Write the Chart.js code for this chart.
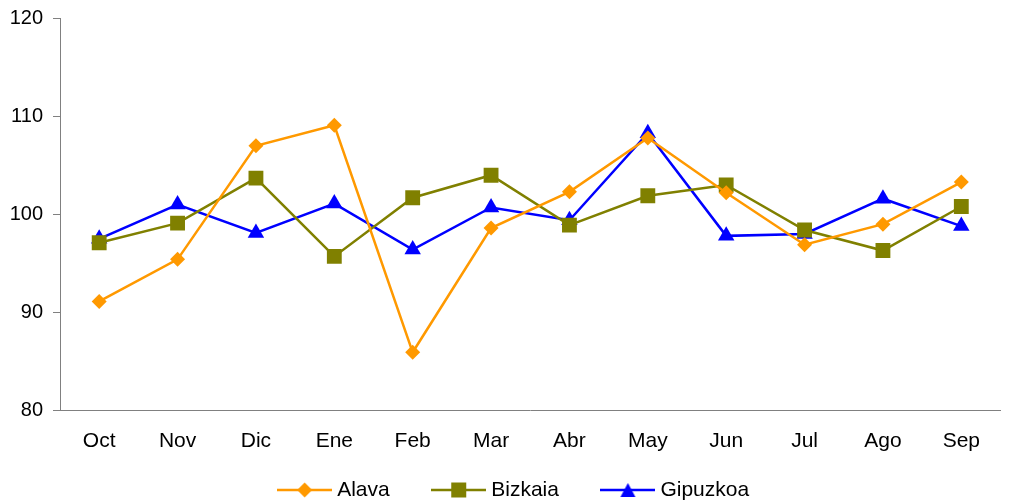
<!DOCTYPE html>
<html>
<head>
<meta charset="utf-8">
<script src="https://cdn.jsdelivr.net/npm/chart.js@4.4.1/dist/chart.umd.min.js"></script>
<style>
  html, body { margin: 0; padding: 0; background: #fff; overflow: hidden; }
  #wrap { width: 1011px; height: 502px; }
</style>
</head>
<body>
<div id="wrap"><canvas id="chart" width="1011" height="502"></canvas></div>
<script>
// months (Oct -> Sep)
const months = ['Oct', 'Nov', 'Dic', 'Ene', 'Feb', 'Mar', 'Abr', 'May', 'Jun', 'Jul', 'Ago', 'Sep'];

const alava    = [91.1, 95.4, 107.0, 109.1, 85.9, 98.6, 102.3, 107.8, 102.2, 96.9, 99.0, 103.3];
const bizkaia  = [97.1, 99.1, 103.7, 95.7, 101.7, 104.0, 98.9, 101.9, 103.0, 98.4, 96.3, 100.8];
const gipuzkoa = [97.5, 101.0, 98.1, 101.1, 96.4, 100.7, 99.4, 108.3, 97.8, 98.0, 101.6, 98.8];

const yTicks = [80, 90, 100, 110, 120];

const FONT = 'Liberation Sans, Arial, Helvetica, sans-serif';

// legend icon: short line with the marker in the middle
function legendIcon(color, shape) {
    const c = document.createElement('canvas');
    c.width = 55;
    c.height = 20;
    const g = c.getContext('2d');
    g.strokeStyle = color;
    g.lineWidth = 2.5;
    g.beginPath();
    g.moveTo(0, 10);
    g.lineTo(55, 10);
    g.stroke();
    g.fillStyle = color;
    g.beginPath();
    if (shape === 'diamond') {
        g.moveTo(27.5, 2.5); g.lineTo(35, 10); g.lineTo(27.5, 17.5); g.lineTo(20, 10);
    } else if (shape === 'square') {
        g.rect(20, 2.5, 15, 15);
    } else {
        g.moveTo(27.5, 3); g.lineTo(35, 17); g.lineTo(20, 17);
    }
    g.closePath();
    g.fill();
    return c;
}

const series = [
    { label: 'Alava',    data: alava,    color: '#FF9900', style: 'rectRot',  radius: 7.5,  icon: legendIcon('#FF9900', 'diamond') },
    { label: 'Bizkaia',  data: bizkaia,  color: '#808000', style: 'rect',     radius: 10.5, icon: legendIcon('#808000', 'square') },
    { label: 'Gipuzkoa', data: gipuzkoa, color: '#0000FF', style: 'triangle', radius: 9.5,  icon: legendIcon('#0000FF', 'triangle') }
];

const datasets = series.map(s => ({
    label: s.label,
    data: s.data,
    borderColor: s.color,
    backgroundColor: s.color,
    borderWidth: 2.5,
    pointStyle: s.style,
    pointRadius: s.radius,
    pointBorderWidth: 0,
    pointBackgroundColor: s.color,
    pointBorderColor: s.color,
    tension: 0,
    fill: false
}));

// legend padding is wide for item spacing, so move the box up (and centre it like the original)
const legendNudge = {
    id: 'legendNudge',
    afterLayout(chart) {
        const lg = chart.legend;
        lg.top -= 20.5;
        lg.bottom = chart.height;
        lg.height = lg.bottom - lg.top;
        lg.left += 10.4;
        lg.right += 10.4;
    }
};

new Chart(document.getElementById('chart'), {
    type: 'line',
    data: { labels: months, datasets: datasets },
    plugins: [legendNudge],
    options: {
        responsive: false,
        animation: false,
        layout: { padding: { top: 18.7, right: 0, left: 0, bottom: 0 } },
        plugins: {
            tooltip: { enabled: false },
            legend: {
                position: 'bottom',
                maxHeight: 49,
                labels: {
                    usePointStyle: true,
                    pointStyleWidth: 44,
                    padding: 47,
                    color: '#000',
                    font: { family: FONT, size: 21 },
                    generateLabels: chart => series.map((s, i) => ({
                        text: s.label,
                        pointStyle: s.icon,
                        fillStyle: s.color,
                        strokeStyle: s.color,
                        lineWidth: 0,
                        hidden: false,
                        datasetIndex: i,
                        fontColor: '#000'
                    }))
                }
            }
        },
        scales: {
            x: {
                offset: true,
                grid: { display: false, drawTicks: false },
                border: { display: true, color: '#808080', width: 1 },
                ticks: { color: '#000', padding: 19, font: { family: FONT, size: 21 }, maxRotation: 0 },
                afterFit: scale => { scale.height = 43; }
            },
            y: {
                min: 80,
                max: 120,
                afterBuildTicks: scale => { scale.ticks = yTicks.map(v => ({ value: v })); },
                grid: { drawOnChartArea: false, drawTicks: true, tickLength: 7, color: '#808080' },
                border: { display: true, color: '#808080', width: 1 },
                ticks: { color: '#000', padding: 10, font: { family: FONT, size: 20, lineHeight: 0.87 } },
                afterFit: scale => { scale.width = 60; }
            }
        }
    }
});
</script>
</body>
</html>
